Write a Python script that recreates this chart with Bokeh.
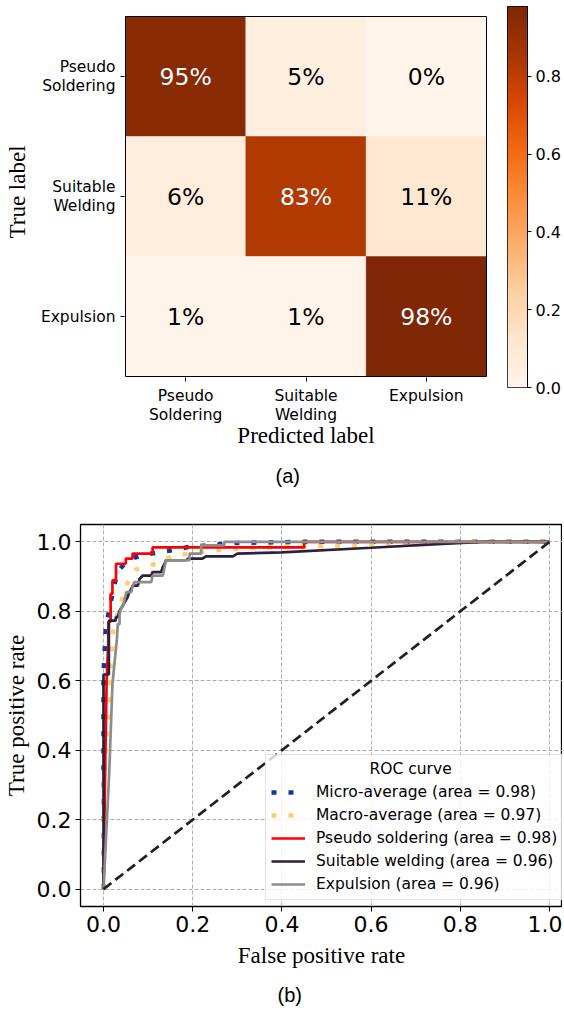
import numpy as np
from bokeh.plotting import figure
from bokeh.models import (Range1d, FixedTicker, PrintfTickFormatter, Title,
                          LinearColorMapper, ColumnDataSource)
from bokeh.layouts import column, row
from bokeh.palettes import Oranges256
from bokeh.transform import linear_cmap
from bokeh.core.properties import value
from bokeh.embed import file_html
from bokeh.resources import INLINE

# ---------------- data ----------------
classes = ["Pseudo\nSoldering", "Suitable\nWelding", "Expulsion"]
cm_row0 = [0.95, 0.05, 0.00]
cm_row1 = [0.06, 0.83, 0.11]
cm_row2 = [0.01, 0.01, 0.98]
cbar_ticks = [0.0, 0.2, 0.4, 0.6, 0.8]
cbar_max = 0.98

fpr_micro = [0.0, 0.0, 0.005, 0.012, 0.02, 0.027, 0.035, 0.05, 0.07, 0.10, 0.15, 0.19, 0.23, 0.30, 0.45, 1.0]
tpr_micro = [0.0, 0.62, 0.75, 0.80, 0.85, 0.89, 0.92, 0.94, 0.955, 0.965, 0.975, 0.985, 0.99, 0.997, 1.0, 1.0]

fpr_macro = [0.0, 0.0, 0.01, 0.02, 0.022, 0.033, 0.053, 0.072, 0.10, 0.13, 0.155, 0.195, 0.245, 0.33, 0.45, 0.60, 0.72, 0.78, 1.0]
tpr_macro = [0.0, 0.30, 0.50, 0.70, 0.75, 0.80, 0.88, 0.92, 0.93, 0.943, 0.96, 0.967, 0.975, 0.983, 0.986, 0.992, 0.995, 1.0, 1.0]

fpr_pseudo = [0.0, 0.004, 0.007, 0.011, 0.011, 0.016, 0.016, 0.02, 0.02, 0.028, 0.028, 0.05, 0.05, 0.065, 0.065, 0.11, 0.11, 0.45, 0.45, 1.0]
tpr_pseudo = [0.0, 0.37, 0.60, 0.72, 0.77, 0.77, 0.85, 0.85, 0.889, 0.889, 0.937, 0.937, 0.952, 0.952, 0.966, 0.966, 0.984, 0.984, 1.0, 1.0]

fpr_suit = [0.0, 0.0, 0.012, 0.012, 0.027, 0.028, 0.032, 0.036, 0.043, 0.054, 0.058, 0.066, 0.077, 0.081, 0.088, 0.107, 0.11, 0.129, 0.133, 0.137, 0.14, 0.185, 0.19, 0.222, 0.23, 0.29, 0.30, 0.40, 0.60, 0.76, 0.85, 1.0]
tpr_suit = [0.0, 0.618, 0.618, 0.773, 0.773, 0.783, 0.783, 0.802, 0.816, 0.841, 0.855, 0.874, 0.874, 0.894, 0.903, 0.903, 0.913, 0.913, 0.928, 0.937, 0.947, 0.947, 0.952, 0.952, 0.958, 0.958, 0.966, 0.970, 0.983, 0.994, 1.0, 1.0]

fpr_exp = [0.0, 0.013, 0.02, 0.03, 0.032, 0.036, 0.036, 0.040, 0.043, 0.047, 0.051, 0.062, 0.066, 0.069, 0.107, 0.11, 0.133, 0.137, 0.14, 0.193, 0.193, 0.219, 0.219, 0.271, 0.271, 1.0]
tpr_exp = [0.0, 0.34, 0.59, 0.72, 0.763, 0.763, 0.792, 0.812, 0.812, 0.831, 0.855, 0.855, 0.874, 0.884, 0.884, 0.903, 0.903, 0.928, 0.947, 0.947, 0.966, 0.966, 0.99, 0.99, 1.0, 1.0]

diag = [0.0, 1.0]
roc_ticks = [0.0, 0.2, 0.4, 0.6, 0.8, 1.0]

legend_title = "ROC curve"
legend_labels = ["Micro-average (area = 0.98)", "Macro-average (area = 0.97)",
                 "Pseudo soldering (area = 0.98)", "Suitable welding (area = 0.96)",
                 "Expulsion (area = 0.96)"]

SANS = "DejaVu Sans"
SERIF = "Liberation Serif"

# ---------------- panel (a) ----------------
palette = list(reversed(Oranges256))
mapper = LinearColorMapper(palette=palette, low=0.0, high=cbar_max)

n = len(classes)
cm = [cm_row0, cm_row1, cm_row2]
xs, ys, vals, txt, tcol = [], [], [], [], []
for i, r in enumerate(cm):
    for j, v in enumerate(r):
        xs.append(j + 0.5)
        ys.append(i + 0.5)
        vals.append(v)
        txt.append(f"{round(v * 100)}%")
        tcol.append("white" if v > cbar_max / 2 else "black")
src = ColumnDataSource(dict(x=xs, y=ys, v=vals, t=txt, c=tcol))

CELL = 120.0  # px per cell
pa = figure(frame_width=363, frame_height=371,
            x_range=Range1d(-1 / CELL, n + 1 / CELL),
            y_range=Range1d(n + 1 / CELL, -10 / CELL),
            output_backend="svg", toolbar_location=None,
            min_border_left=124, min_border_right=7, min_border_top=6, min_border_bottom=123)
pa.rect(x="x", y="y", width=1, height=1, source=src,
        fill_color=linear_cmap("v", palette, 0.0, cbar_max),
        line_color=linear_cmap("v", palette, 0.0, cbar_max), line_width=0.5)
pa.rect(x=n / 2, y=n / 2, width=n, height=n, fill_color=None,
        line_color="black", line_width=1)
pa.text(x="x", y="y", text="t", source=src, text_color="c",
        text_align="center", text_baseline="middle",
        text_font=value(SANS), text_font_size="23.5px")
pa.grid.visible = False
for ax in (pa.xaxis[0], pa.yaxis[0]):
    ax.ticker = FixedTicker(ticks=[0.5, 1.5, 2.5])
    ax.major_label_overrides = {0.5: classes[0], 1.5: classes[1], 2.5: classes[2]}
    ax.major_label_text_font = SANS
    ax.major_label_text_font_size = "15.5px"
    ax.major_label_text_line_height = 1.1
    ax.major_label_text_color = "black"
    ax.major_tick_out = 4
    ax.major_tick_in = 0
    ax.minor_tick_line_color = None
    ax.axis_line_color = None
    ax.major_tick_line_color = "black"
    ax.axis_label_text_font = SERIF
    ax.axis_label_text_font_size = "23px"
    ax.axis_label_text_font_style = "normal"
    ax.axis_label_text_color = "black"
    ax.major_label_standoff = 5
pa.xaxis.axis_label_standoff = -4
pa.yaxis.axis_label_standoff = 8
pa.xaxis.axis_label = "Predicted label"
pa.yaxis.axis_label = "True label"
pa.yaxis.major_label_orientation = "horizontal"
pa.outline_line_color = None
pa.add_layout(Title(text="(a)", align="left", offset=151, standoff=22,
                    text_font="Liberation Sans", text_font_size="20px",
                    text_font_style="normal", text_color="black"), "below")

# colorbar
pc = figure(frame_width=20, frame_height=381, x_range=Range1d(0, 1), y_range=Range1d(0, cbar_max),
            output_backend="svg", toolbar_location=None, x_axis_location=None,
            y_axis_location="right", min_border_left=13, min_border_right=0,
            min_border_top=6, min_border_bottom=113)
grad = np.linspace(0.0, cbar_max, 256).reshape(256, 1)
pc.image(image=[grad], x=0, y=0, dw=1, dh=cbar_max, color_mapper=mapper)
pc.grid.visible = False
pc.yaxis.ticker = FixedTicker(ticks=cbar_ticks)
pc.yaxis.formatter = PrintfTickFormatter(format="%.1f")
pc.yaxis.major_label_text_font = SANS
pc.yaxis.major_label_text_font_size = "16px"
pc.yaxis.major_label_text_color = "black"
pc.yaxis.major_tick_out = 4
pc.yaxis.major_tick_in = 0
pc.yaxis.minor_tick_line_color = None
pc.yaxis.major_label_standoff = 4
pc.yaxis.axis_line_color = "black"
pc.outline_line_color = "black"

# ---------------- panel (b) ----------------
x0 = -0.0516
pb = figure(frame_width=482, frame_height=382, x_range=Range1d(x0, x0 + 482 / 446),
            y_range=Range1d(-0.05, 1.05), output_backend="svg", toolbar_location=None,
            min_border_left=78, min_border_right=0, min_border_top=24, min_border_bottom=105)
pb.line(fpr_micro, tpr_micro, line_color="#0d3a9c", line_width=4.5, line_dash="5 12",
        legend_label=legend_labels[0])
pb.line(fpr_macro, tpr_macro, line_color="#fdcf74", line_width=4.5, line_dash="5 12",
        legend_label=legend_labels[1])
pb.line(fpr_pseudo, tpr_pseudo, line_color="#ff0000", line_width=2.7,
        legend_label=legend_labels[2])
pb.line(fpr_suit, tpr_suit, line_color="#2e1f3c", line_width=2.7,
        legend_label=legend_labels[3])
pb.line(fpr_exp, tpr_exp, line_color="#8c8c8c", line_width=2.7,
        legend_label=legend_labels[4])
pb.line(diag, diag, line_color="#231f1a", line_width=2.7, line_dash="10 5")

for ax in (pb.xaxis[0], pb.yaxis[0]):
    ax.ticker = FixedTicker(ticks=roc_ticks)
    ax.formatter = PrintfTickFormatter(format="%.1f")
    ax.major_label_text_font = SANS
    ax.major_label_text_font_size = "22px"
    ax.major_label_text_color = "black"
    ax.major_tick_out = 5
    ax.major_tick_in = 0
    ax.minor_tick_line_color = None
    ax.axis_line_color = "black"
    ax.axis_label_text_font = SERIF
    ax.axis_label_text_font_size = "23px"
    ax.axis_label_text_font_style = "normal"
    ax.axis_label_text_color = "black"
    ax.major_label_standoff = 4
pb.xaxis.axis_label_standoff = 8
pb.yaxis.axis_label_standoff = 5
pb.xaxis.axis_label = "False positive rate"
pb.yaxis.axis_label = "True positive rate"
pb.grid.grid_line_color = "#b0b0b0"
pb.grid.grid_line_dash = "4 2"
pb.grid.grid_line_width = 1
pb.outline_line_color = "black"
pb.outline_line_width = 1.3

lg = pb.legend[0]
lg.title = "\u00a0" * 20 + legend_title   # non-breaking spaces centre the title
lg.title_text_font = SANS
lg.title_text_font_size = "15.5px"
lg.title_text_font_style = "normal"
lg.title_text_color = "black"
lg.title_standoff = 4
lg.label_text_font = SANS
lg.label_text_font_size = "15.5px"
lg.label_text_color = "black"
lg.location = (185, 6)
lg.border_line_color = "#cccccc"
lg.background_fill_alpha = 0.8
lg.glyph_width = 34
lg.glyph_height = 20
lg.label_height = 20
lg.spacing = 3
lg.padding = 5
lg.label_standoff = 11
lg.margin = 0

pb.add_layout(Title(text="(b)", align="left", offset=197, standoff=23,
                    text_font="Liberation Sans", text_font_size="20px",
                    text_font_style="normal", text_color="black"), "below")

layout = column(row(pa, pc), pb)
open("out.html", "w").write(file_html(layout, INLINE))
